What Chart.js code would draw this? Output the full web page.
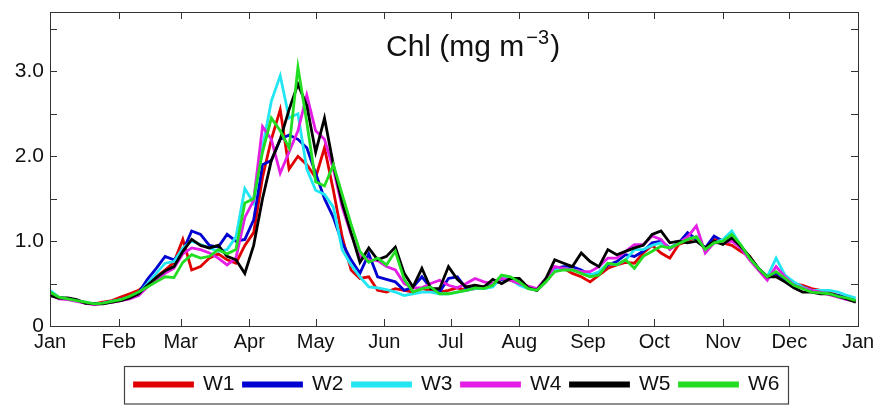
<!DOCTYPE html>
<html>
<head>
<meta charset="utf-8">
<script src="https://cdn.jsdelivr.net/npm/chart.js@4.4.1/dist/chart.umd.min.js"></script>
<style>
  html, body { margin: 0; padding: 0; background: #fff; }
  #chlChart { display: block; }
</style>
</head>
<body>
<canvas id="chlChart" width="883" height="405"></canvas>
<script>
// day of year for each sample
const days = [0,4,8,12,16,20,24,28,32,36,40,44,48,52,56,60,64,68,72,76,80,84,88,92,96,100,104,108,112,116,120,124,128,132,136,140,144,148,152,156,160,164,168,172,176,180,184,188,192,196,200,204,208,212,216,220,224,228,232,236,240,244,248,252,256,260,264,268,272,276,280,284,288,292,296,300,304,308,312,316,320,324,328,332,336,340,344,348,352,356,360,364];

const w1 = [.38,.33,.32,.30,.27,.26,.28,.30,.34,.38, .42,.50,.58,.66,.75,1.02,.66,.70,.80,.85, .78,.74,.95,1.1,1.75,2.2,2.55,1.85,2.0,1.9, 1.75,2.1,1.6,1.05,.66,.56,.58,.42,.40,.44, .42,.40,.44,.42,.40,.42,.45,.42,.44,.45, .48,.56,.54,.50,.45,.42,.52,.65,.68,.62, .58,.52,.60,.68,.72,.75,.74,.86,.95,.86, .80,.96,1.0,1.05,.90,1.02,.98,.95,.88,.82, .68,.58,.60,.56,.50,.48,.44,.42,.40,.36, .33,.30];
const w2 = [.37,.33,.32,.30,.27,.26,.27,.29,.31,.34, .39,.55,.68,.82,.78,.88,1.12,1.08,.95,.93, 1.08,1.0,1.02,1.25,1.9,1.95,2.2,2.25,2.2,2.1, 1.8,1.5,1.28,.98,.78,.62,.85,.58,.55,.52, .42,.46,.58,.45,.40,.56,.58,.44,.46,.46, .48,.55,.55,.50,.45,.43,.55,.68,.70,.70, .66,.60,.62,.72,.76,.84,.82,.88,.98,1.0, .92,.98,1.1,1.02,.92,1.06,1.0,1.02,.92,.80, .68,.58,.62,.55,.50,.46,.42,.40,.38,.36, .33,.30];
const w3 = [.42,.34,.32,.30,.28,.26,.27,.29,.31,.34, .38,.50,.62,.74,.76,.92,1.0,.96,.92,.88, .90,1.05,1.62,1.45,2.1,2.65,2.95,2.45,2.5,1.85, 1.6,1.55,1.4,.9,.72,.58,.46,.45,.43,.40, .36,.38,.40,.40,.38,.38,.40,.42,.44,.44, .46,.58,.55,.48,.44,.42,.52,.66,.68,.66, .64,.60,.64,.74,.72,.78,.90,.90,.95,.98, .92,.98,1.02,1.05,.90,.98,1.02,1.12,.95,.80, .68,.58,.80,.60,.52,.46,.42,.42,.42,.40, .36,.33];
const w4 = [.38,.32,.31,.29,.27,.25,.27,.28,.30,.32, .36,.46,.55,.62,.68,.85,.92,.90,.86,.80, .72,.80,1.28,1.48,2.35,2.2,1.8,2.05,2.3,2.72, 2.3,2.2,1.85,1.4,1.08,.82,.78,.77,.70,.66, .50,.45,.45,.50,.54,.48,.45,.50,.56,.52, .50,.56,.54,.50,.47,.44,.56,.70,.68,.66, .64,.64,.70,.80,.80,.88,.96,.96,1.06,1.02, .90,.98,1.05,1.18,.86,.98,.98,1.0,.92,.78, .66,.54,.70,.58,.48,.45,.42,.40,.37,.34, .31,.29];
const w5 = [.36,.33,.33,.31,.27,.26,.26,.28,.30,.33, .38,.48,.57,.65,.70,.88,1.02,.95,.92,.95, .82,.78,.62,.95,1.5,1.95,2.2,2.55,2.85,2.6, 2.05,2.45,1.9,1.45,1.1,.75,.92,.78,.82,.93, .62,.46,.68,.44,.44,.70,.55,.46,.48,.46, .55,.50,.56,.56,.45,.42,.56,.78,.74,.70, .86,.76,.70,.90,.84,.88,.92,.95,1.08,1.12, .98,1.0,.98,1.0,.92,1.0,.96,1.04,.94,.82, .68,.58,.58,.52,.45,.40,.40,.38,.38,.35, .32,.28];
const w6 = [.40,.34,.32,.30,.28,.26,.27,.29,.31,.35, .40,.46,.52,.58,.57,.75,.84,.80,.82,.90, .85,.90,1.45,1.50,2.05,2.45,2.3,2.1,3.05,2.4, 1.7,1.65,1.9,1.55,1.2,.88,.75,.80,.72,.88, .55,.40,.44,.46,.38,.38,.40,.42,.45,.44, .48,.60,.58,.52,.44,.42,.52,.64,.66,.66, .62,.58,.60,.74,.72,.78,.68,.82,.88,.94, .92,.97,1.02,1.05,.90,.98,1.0,1.08,.96,.80, .68,.58,.64,.56,.48,.44,.40,.39,.38,.35, .33,.30];

const seriesNames = ['W1','W2','W3','W4','W5','W6'];
const seriesValues = [w1, w2, w3, w4, w5, w6];
const seriesColors = ['#e00000','#0000d0','#22e6f2','#e41ee4','#000000','#22dd22'];

const monthDays = [0,31,59,90,120,151,181,212,243,273,304,334,365];
const monthLabels = ['Jan','Feb','Mar','Apr','May','Jun','Jul','Aug','Sep','Oct','Nov','Dec','Jan'];
const yTicks = [0,1,2,3];
const yTickText = ['0','1.0','2.0','3.0'];
const yMarks = [0,0.5,1,1.5,2,2.5,3,3.5];

const FONT = '"Liberation Sans", Arial, Helvetica, sans-serif';

const datasets = seriesNames.map((name, i) => ({
  label: name,
  data: days.map((d, k) => ({ x: d, y: seriesValues[i][k] })),
  borderColor: seriesColors[i],
  backgroundColor: seriesColors[i],
  borderWidth: 2.8,
  pointRadius: 0,
  tension: 0,
  order: seriesNames.length - i   // W6 on top
}));

// frame, inward ticks, title and legend box
const framePlugin = {
  id: 'frame',
  beforeInit(chart) {
    const legend = chart.legend;
    const origFit = legend.fit;
    legend.fit = function () {
      origFit.call(this);
      this.height = 40;
    };
  },
  afterLayout(chart) {
    // centre the legend under the plot area
    const lg = chart.legend;
    const shift = (chart.chartArea.left + chart.chartArea.right) / 2 + 3 - (lg.left + lg.right) / 2;
    lg.left += shift;
    lg.right += shift;
  },
  afterDraw(chart) {
    const ctx = chart.ctx;
    const a = chart.chartArea;
    const xs = chart.scales.x, ys = chart.scales.y;
    const tl = 7;
    ctx.save();
    ctx.strokeStyle = '#333';
    ctx.lineWidth = 1;
    ctx.strokeRect(Math.round(a.left) + 0.5, Math.round(a.top) + 0.5,
      Math.round(a.right - a.left), Math.round(a.bottom - a.top));
    ctx.beginPath();
    monthDays.forEach(d => {
      const x = Math.round(xs.getPixelForValue(d)) + 0.5;
      ctx.moveTo(x, a.bottom); ctx.lineTo(x, a.bottom - tl);
      ctx.moveTo(x, a.top); ctx.lineTo(x, a.top + tl);
    });
    yMarks.forEach(v => {
      const y = Math.round(ys.getPixelForValue(v)) + 0.5;
      ctx.moveTo(a.left, y); ctx.lineTo(a.left + tl, y);
      ctx.moveTo(a.right, y); ctx.lineTo(a.right - tl, y);
    });
    ctx.stroke();

    // title
    ctx.fillStyle = '#111';
    ctx.textBaseline = 'alphabetic';
    ctx.textAlign = 'left';
    ctx.font = '30px ' + FONT;
    const main = 'Chl (mg m';
    let tx = 386;
    ctx.fillText(main, tx, 56);
    tx += ctx.measureText(main).width + 2;
    ctx.font = '20px ' + FONT;
    ctx.fillText('\u22123', tx, 44);
    tx += ctx.measureText('\u22123').width + 1;
    ctx.font = '30px ' + FONT;
    ctx.fillText(')', tx, 56);

    // legend border
    const boxes = chart.legend.legendHitBoxes;
    if (boxes && boxes.length) {
      const first = boxes[0], last = boxes[boxes.length - 1];
      const l = Math.round(first.left - 11) + 0.5;
      const r = Math.round(last.left + last.width + 8) + 0.5;
      const t = Math.round(chart.legend.top + 1) + 0.5;
      ctx.strokeStyle = '#444';
      ctx.lineWidth = 1.2;
      ctx.strokeRect(l, t, r - l, 404 - t);
    }
    ctx.restore();
  }
};

new Chart(document.getElementById('chlChart'), {
  type: 'line',
  data: { datasets },
  plugins: [framePlugin],
  options: {
    responsive: false,
    animation: false,
    devicePixelRatio: 1,
    layout: { padding: { top: 12, right: 25, left: 0, bottom: 0 } },
    scales: {
      x: {
        type: 'linear',
        min: 0,
        max: 365,
        grid: { display: false, drawTicks: false },
        border: { display: false },
        afterBuildTicks: s => { s.ticks = monthDays.map(v => ({ value: v })); },
        afterFit: s => { s.height = 39; },
        ticks: {
          autoSkip: false,
          maxRotation: 0,
          minRotation: 0,
          padding: 4,
          color: '#111',
          font: { family: FONT, size: 20 },
          callback: (v, i) => monthLabels[i]
        }
      },
      y: {
        min: 0,
        max: 3.7,
        grid: { display: false, drawTicks: false },
        border: { display: false },
        afterBuildTicks: s => { s.ticks = yTicks.map(v => ({ value: v })); },
        afterFit: s => { s.width = 50; s.paddingTop = 0; s.paddingBottom = 0; },
        ticks: {
          padding: 6,
          color: '#111',
          font: { family: FONT, size: 21 },
          callback: (v, i) => yTickText[i]
        }
      }
    },
    plugins: {
      title: { display: false },
      tooltip: { enabled: false },
      legend: {
        display: true,
        position: 'bottom',
        labels: {
          boxWidth: 58,
          boxHeight: 3,
          padding: 9,
          color: '#111',
          font: { family: FONT, size: 21 },
          sort: (a, b) => a.datasetIndex - b.datasetIndex
        }
      }
    }
  }
});
</script>
</body>
</html>
